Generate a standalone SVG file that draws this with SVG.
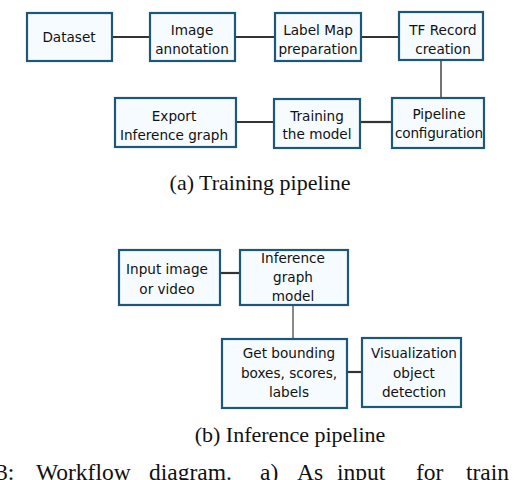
<svg xmlns="http://www.w3.org/2000/svg" width="524" height="480" viewBox="0 0 524 480">
<style>
.box{fill:#f5fbfe;stroke:#1d5878;stroke-width:2.2}
.t{font-family:"DejaVu Sans",Verdana,sans-serif;font-size:13.6px;fill:#111;text-anchor:middle}
.cap{font-family:"Liberation Serif","Times New Roman",serif;font-size:22px;fill:#111;text-anchor:middle}
.body{font-family:"Liberation Serif","Times New Roman",serif;font-size:23.5px;fill:#111}
.c{stroke:#333;stroke-width:2.2;fill:none}
.c2{stroke:#444;stroke-width:1.5;fill:none}
.c3{stroke:#8a8a8a;stroke-width:2;fill:none}
</style>
<rect width="524" height="480" fill="#fff"/>
<g id="connectors">
<line class="c" x1="112" y1="37" x2="150" y2="37"/>
<line class="c" x1="235" y1="37" x2="275" y2="37"/>
<line class="c" x1="361" y1="37" x2="399" y2="37"/>
<line class="c2" x1="441" y1="60" x2="441" y2="98"/>
<line class="c" x1="360" y1="122" x2="392" y2="122"/>
<line class="c" x1="236" y1="122" x2="274" y2="122"/>
<line class="c" x1="220" y1="273" x2="240" y2="273"/>
<line class="c3" x1="293" y1="305" x2="293" y2="339"/>
<line class="c" x1="347" y1="372" x2="362" y2="372"/>
</g>
<g id="dataset"><rect class="box" x="27" y="13" width="85" height="48"/><text class="t" x="69" y="42">Dataset</text></g>
<g id="image-annotation"><rect class="box" x="150" y="13" width="85" height="48"/><text class="t" x="192" y="35">Image</text><text class="t" x="192" y="54">annotation</text></g>
<g id="label-map"><rect class="box" x="275" y="13" width="86" height="48"/><text class="t" x="318" y="35">Label Map</text><text class="t" x="318" y="54">preparation</text></g>
<g id="tf-record"><rect class="box" x="399" y="12" width="84" height="48"/><text class="t" x="443" y="35">TF Record</text><text class="t" x="443" y="54">creation</text></g>
<g id="pipeline-config"><rect class="box" x="392" y="98" width="92" height="50"/><text class="t" x="439" y="119">Pipeline</text><text class="t" x="439" y="138" textLength="88">configuration</text></g>
<g id="training"><rect class="box" x="274" y="99" width="86" height="49"/><text class="t" x="317" y="121">Training</text><text class="t" x="317" y="139">the model</text></g>
<g id="export"><rect class="box" x="115" y="98" width="121" height="49"/><text class="t" x="174" y="121">Export</text><text class="t" x="174" y="140">Inference graph</text></g>
<text class="cap" x="260" y="190">(a) Training pipeline</text>
<g id="input"><rect class="box" x="119" y="250" width="101" height="55"/><text class="t" x="167" y="274">Input image</text><text class="t" x="167" y="294">or video</text></g>
<g id="inference-graph"><rect class="box" x="240" y="250" width="108" height="55"/><text class="t" x="293" y="263">Inference</text><text class="t" x="293" y="282">graph</text><text class="t" x="293" y="301">model</text></g>
<g id="get-bounding"><rect class="box" x="222" y="339" width="125" height="69"/><text class="t" x="289" y="358">Get bounding</text><text class="t" x="289" y="378">boxes, scores,</text><text class="t" x="289" y="397">labels</text></g>
<g id="visualization"><rect class="box" x="362" y="338" width="99" height="69"/><text class="t" x="414" y="358">Visualization</text><text class="t" x="414" y="378">object</text><text class="t" x="414" y="397">detection</text></g>
<text class="cap" x="290" y="442">(b) Inference pipeline</text>
<text class="body" y="480"><tspan x="-4">3:</tspan><tspan x="36">Workflow</tspan><tspan x="149">diagram.</tspan><tspan x="260">a)</tspan><tspan x="297">As</tspan><tspan x="337">input</tspan><tspan x="416">for</tspan><tspan x="466">train</tspan></text>
</svg>
